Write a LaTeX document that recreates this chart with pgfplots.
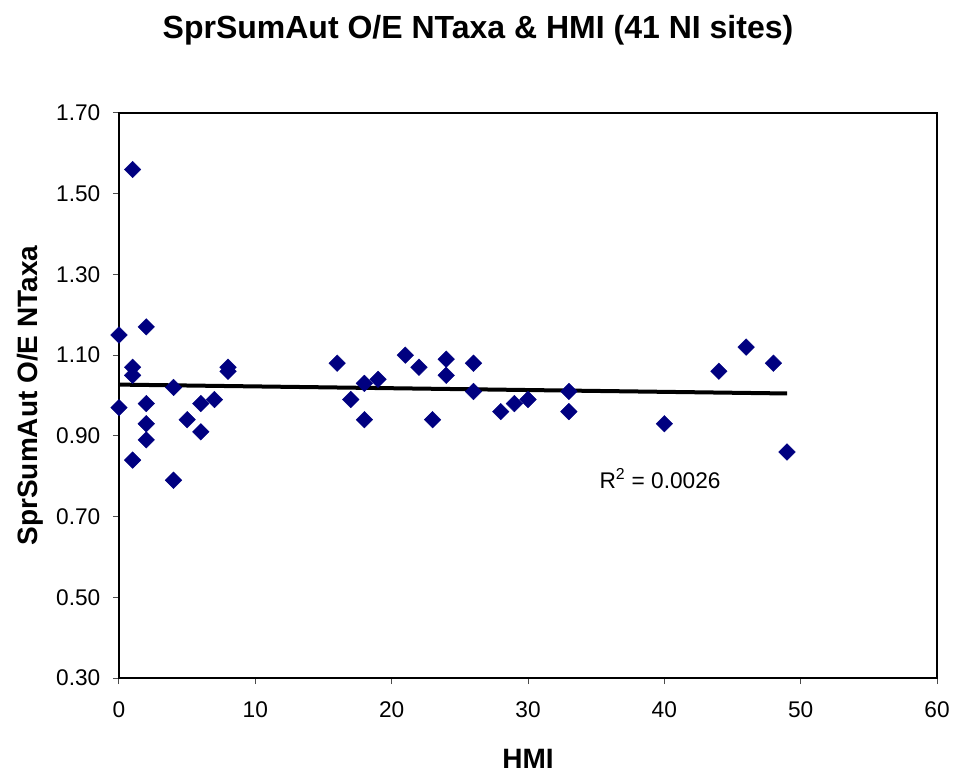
\documentclass[border=0pt]{standalone}
\usepackage{pgfplots}
\pgfplotsset{compat=1.18}
\usetikzlibrary{calc}
\usepackage{fontspec}
\setmainfont{Liberation Sans}
\definecolor{navy}{HTML}{000080}
\newlength{\px}\setlength{\px}{0.75pt}
\begin{document}
\begin{tikzpicture}
\begin{axis}[
  name=ax,
  scale only axis,
  width=818\px, height=565\px,
  xmin=0, xmax=60, ymin=0.3, ymax=1.7,
  xtick={0,10,20,30,40,50,60},
  ytick={0.3,0.5,0.7,0.9,1.1,1.3,1.5,1.7},
  yticklabels={0.30,0.50,0.70,0.90,1.10,1.30,1.50,1.70},
  tick align=outside,
  tick pos=left,
  major tick length=6\px,
  tick style={black!70, line width=1\px},
  axis line style={black, line width=2.2\px},
  ticklabel style={font=\fontsize{17pt}{19pt}\selectfont},
  /pgf/number format/assume math mode=true,
  xticklabel style={yshift=-13\px},
  yticklabel style={xshift=-8\px},
  clip=false,
]
\addplot[only marks, mark=square*, mark size=4.4pt, mark options={rotate=45, fill=navy, draw=navy, line width=0.3pt}]
coordinates {
(0,1.15) (0,0.97)
(1,1.56) (1,1.07) (1,1.05) (1,0.84)
(2,1.17) (2,0.98) (2,0.93) (2,0.89)
(4,1.02) (4,0.79)
(5,0.94)
(6,0.98) (6,0.91)
(7,0.99)
(8,1.07) (8,1.06)
(16,1.08)
(17,0.99)
(18,1.03) (18,0.94)
(19,1.04)
(21,1.10)
(22,1.07)
(23,0.94)
(24,1.09) (24,1.05)
(26,1.08) (26,1.01)
(28,0.96)
(29,0.98)
(30,0.99)
(33,1.01) (33,0.96)
(40,0.93)
(44,1.06)
(46,1.12)
(48,1.08)
(49,0.86)
};
\addplot[black, line width=3pt, no marks] coordinates {(0,1.027) (49,1.005)};
\node[anchor=west, font=\fontsize{17pt}{19pt}\selectfont] at (axis cs:34.9,0.794) {R\textsuperscript{2} = 0.0026};
\end{axis}
\path[use as bounding box] ($(ax.south west)+(-119\px,-96\px)$) rectangle ($(ax.north east)+(18\px,113\px)$);
\node[font=\fontsize{24pt}{28pt}\selectfont\bfseries] at ($(ax.north west)+(359\px,83\px)$) {SprSumAut O/E NTaxa \& HMI (41 NI sites)};
\node[font=\fontsize{21pt}{24pt}\selectfont\bfseries, rotate=90] at ($(ax.west)+(-89\px,0)$) {SprSumAut O/E NTaxa};
\node[font=\fontsize{21pt}{24pt}\selectfont\bfseries] at ($(ax.south)+(0,-81\px)$) {HMI};
\end{tikzpicture}
\end{document}
